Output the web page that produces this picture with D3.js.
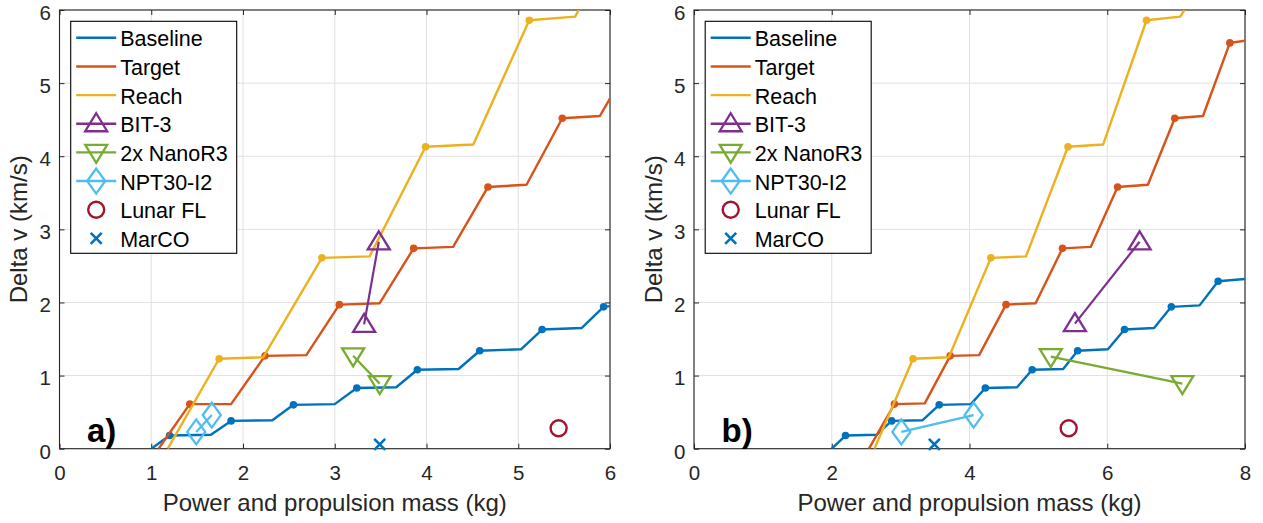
<!DOCTYPE html>
<html>
<head>
<meta charset="utf-8">
<script src="https://cdn.jsdelivr.net/npm/d3@7/dist/d3.min.js"></script>
<style>
  html, body { margin: 0; padding: 0; background: #fff; }
  svg { display: block; font-family: "Liberation Sans", Arial, Helvetica, sans-serif; }
</style>
</head>
<body>
<svg id="chart" width="1263" height="523"></svg>
<script>
// ---- shared axis settings ----
const yTicks = [0, 1, 2, 3, 4, 5, 6];
const xTicksA = [0, 1, 2, 3, 4, 5, 6];
const xTicksB = [0, 2, 4, 6, 8];
const xDomainA = [0, 6];
const xDomainB = [0, 8];
const yDomain = [0, 6];
const xTitle = "Power and propulsion mass (kg)";
const yTitle = "Delta v (km/s)";
const legendNames = ["Baseline", "Target", "Reach", "BIT-3", "2x NanoR3", "NPT30-I2", "Lunar FL", "MarCO"];

// ---- panel a) : [mass kg, delta v km/s] ----
const baselineA = [[1.0,0],[1.2,0.18],[1.65,0.19],[1.87,0.38],[2.32,0.39],[2.55,0.6],[3.0,0.61],[3.24,0.83],[3.67,0.84],[3.9,1.08],[4.35,1.09],[4.58,1.34],[5.03,1.36],[5.26,1.63],[5.69,1.65],[5.93,1.94],[6.0,1.95]];
const targetA = [[1.08,0],[1.42,0.61],[1.87,0.61],[2.24,1.27],[2.69,1.28],[3.05,1.97],[3.49,1.99],[3.86,2.74],[4.29,2.76],[4.67,3.58],[5.09,3.61],[5.48,4.52],[5.89,4.55],[6.0,4.79]];
const reachA = [[1.18,0],[1.74,1.23],[2.22,1.25],[2.86,2.61],[3.38,2.63],[3.99,4.13],[4.51,4.16],[5.12,5.86],[5.62,5.91],[5.66,6.0]];
const bit3A = [[3.32,1.70],[3.48,2.83]];
const nanoR3A = [[3.20,1.27],[3.49,0.89]];
const npt30A = [[1.49,0.23],[1.66,0.46]];
const lunarA = [[5.44,0.28]];
const marcoA = [[3.49,0.06]];

// ---- panel b) ----
const baselineB = [[2.0,0],[2.2,0.18],[2.65,0.19],[2.87,0.38],[3.32,0.39],[3.56,0.6],[4.02,0.61],[4.23,0.83],[4.69,0.84],[4.91,1.08],[5.36,1.09],[5.57,1.34],[6.01,1.36],[6.25,1.63],[6.68,1.65],[6.93,1.94],[7.34,1.96],[7.61,2.29],[8.0,2.32]];
const targetB = [[2.54,0],[2.91,0.61],[3.35,0.62],[3.72,1.27],[4.14,1.28],[4.53,1.97],[4.96,1.99],[5.35,2.74],[5.76,2.76],[6.15,3.58],[6.59,3.61],[6.98,4.52],[7.39,4.55],[7.78,5.55],[8.0,5.58]];
const reachB = [[2.62,0],[3.18,1.23],[3.70,1.25],[4.31,2.61],[4.82,2.63],[5.43,4.13],[5.94,4.16],[6.57,5.86],[7.06,5.91],[7.12,6.0]];
const bit3B = [[5.53,1.71],[6.47,2.83]];
const nanoR3B = [[5.18,1.26],[7.09,0.89]];
const npt30B = [[3.01,0.23],[4.06,0.46]];
const lunarB = [[5.44,0.28]];
const marcoB = [[3.49,0.06]];

// MATLAB-style colour order
const C = {
  baseline: "#0072BD", target: "#D95319", reach: "#EDB120", bit3: "#7E2F8E",
  nano: "#77AC30", npt: "#4DBEEE", lunar: "#A2142F", marco: "#0072BD"
};
const axisColor = "#262626";
const gridColor = "#e0e0e0";

const svg = d3.select("#chart");

// marker path generators (centred on 0,0)
const markerPaths = {
  up: "M0,-10.5 L11,7.5 L-11,7.5 Z",
  down: "M0,10.5 L11,-7.5 L-11,-7.5 Z",
  diamond: "M0,-12.5 L9,0 L0,12.5 L-9,0 Z",
  cross: "M-5.5,-5.5 L5.5,5.5 M-5.5,5.5 L5.5,-5.5"
};

function drawMarker(g, type, cx, cy, color) {
  if (type === "circle") {
    g.append("circle").attr("cx", cx).attr("cy", cy).attr("r", 8)
      .attr("fill", "none").attr("stroke", color).attr("stroke-width", 2.4);
  } else {
    g.append("path").attr("d", markerPaths[type])
      .attr("transform", `translate(${cx},${cy})`)
      .attr("fill", "none").attr("stroke", color)
      .attr("stroke-width", type === "cross" ? 2.6 : 2.3)
      .attr("stroke-linejoin", "miter");
  }
}

function drawPanel(opt) {
  const left = opt.left, right = opt.right, top = 10, bottom = 448.7;
  const x = d3.scaleLinear().domain(opt.xDomain).range([left, right]);
  const y = d3.scaleLinear().domain(yDomain).range([bottom, top]);
  const g = svg.append("g");
  const clipId = "clip-" + opt.id;

  g.append("clipPath").attr("id", clipId)
    .append("rect").attr("x", left).attr("y", top)
    .attr("width", right - left).attr("height", bottom - top);

  // grid
  const grid = g.append("g");
  grid.selectAll("line.gx").data(opt.xTicks).join("line")
    .attr("x1", d => x(d)).attr("x2", d => x(d)).attr("y1", top).attr("y2", bottom)
    .attr("stroke", gridColor).attr("stroke-width", 1);
  grid.selectAll("line.gy").data(yTicks).join("line")
    .attr("x1", left).attr("x2", right).attr("y1", d => y(d)).attr("y2", d => y(d))
    .attr("stroke", gridColor).attr("stroke-width", 1);

  // axes with inward ticks
  const styleAxis = sel => {
    sel.select(".domain").remove();
    sel.selectAll(".tick line").attr("stroke", axisColor).attr("stroke-width", 1);
    sel.selectAll(".tick text").attr("fill", axisColor).attr("font-size", 20.5)
      .attr("font-family", "Liberation Sans, Arial, sans-serif");
  };
  const ax = g.append("g").attr("transform", `translate(0,${bottom})`)
    .call(d3.axisBottom(x).tickValues(opt.xTicks).tickSizeInner(-5).tickSizeOuter(0).tickFormat(d3.format("d")))
    .call(styleAxis);
  ax.selectAll(".tick text").attr("y", 31.5).attr("dy", 0);

  g.append("g").attr("transform", `translate(0,${top})`)
    .call(d3.axisTop(x).tickValues(opt.xTicks).tickSizeInner(-5).tickSizeOuter(0).tickFormat(""))
    .call(styleAxis);

  const ay = g.append("g").attr("transform", `translate(${left},0)`)
    .call(d3.axisLeft(y).tickValues(yTicks).tickSizeInner(-5).tickSizeOuter(0).tickFormat(d3.format("d")))
    .call(styleAxis);
  ay.selectAll(".tick text").attr("x", -8.5).attr("dy", 0).attr("y", 9.3);

  g.append("g").attr("transform", `translate(${right},0)`)
    .call(d3.axisRight(y).tickValues(yTicks).tickSizeInner(-5).tickSizeOuter(0).tickFormat(""))
    .call(styleAxis);

  // axes box
  g.append("rect").attr("x", left).attr("y", top)
    .attr("width", right - left).attr("height", bottom - top)
    .attr("fill", "none").attr("stroke", axisColor).attr("stroke-width", 1.1);

  // axis titles
  g.append("text").attr("x", (left + right) / 2).attr("y", 510.5)
    .attr("text-anchor", "middle").attr("font-size", 24).attr("fill", axisColor)
    .text(xTitle);
  g.append("text").attr("transform", `translate(${left - 32.5},${(top + bottom) / 2}) rotate(-90)`)
    .attr("text-anchor", "middle").attr("font-size", 24).attr("fill", axisColor)
    .text(yTitle);

  // panel tag
  g.append("text").attr("x", left + 27.5).attr("y", 442)
    .attr("font-size", 33).attr("font-weight", "bold").attr("fill", "#000")
    .text(opt.tag);

  const line = d3.line().x(d => x(d[0])).y(d => y(d[1]));
  const plot = g.append("g").attr("clip-path", `url(#${clipId})`);

  // stepped design curves with dots at each plateau start
  [[opt.baseline, C.baseline], [opt.target, C.target], [opt.reach, C.reach]].forEach(([data, color]) => {
    plot.append("path").datum(data).attr("d", line)
      .attr("fill", "none").attr("stroke", color).attr("stroke-width", 2.4)
      .attr("stroke-linejoin", "round");
    plot.selectAll(null).data(data.filter((d, i) => i % 2 === 1 && i < data.length - 1)).join("circle")
      .attr("cx", d => x(d[0])).attr("cy", d => y(d[1])).attr("r", 3.8)
      .attr("fill", color);
  });

  // thruster options
  const mk = g.append("g");
  [[opt.bit3, C.bit3, "up"], [opt.nano, C.nano, "down"], [opt.npt, C.npt, "diamond"]].forEach(([data, color, type]) => {
    mk.append("path").datum(data).attr("d", line)
      .attr("fill", "none").attr("stroke", color).attr("stroke-width", 2.2);
    data.forEach(d => drawMarker(mk, type, x(d[0]), y(d[1]), color));
  });
  opt.lunar.forEach(d => drawMarker(mk, "circle", x(d[0]), y(d[1]), C.lunar));
  opt.marco.forEach(d => drawMarker(mk, "cross", x(d[0]), y(d[1]), C.marco));

  // legend
  const lx = left + 11.2, ly = 21.3, lw = 166, lh = 232;
  const lg = g.append("g");
  lg.append("rect").attr("x", lx).attr("y", ly).attr("width", lw).attr("height", lh)
    .attr("fill", "#fff").attr("stroke", "#000").attr("stroke-width", 1.1);
  const legendStyle = [
    [C.baseline, "line", null], [C.target, "line", null], [C.reach, "line", null],
    [C.bit3, "line", "up"], [C.nano, "line", "down"], [C.npt, "line", "diamond"],
    [C.lunar, null, "circle"], [C.marco, null, "cross"]
  ];
  legendNames.forEach((name, i) => {
    const cy = ly + 16.5 + i * 28.65;
    const [color, ln, mkType] = legendStyle[i];
    if (ln) {
      lg.append("line").attr("x1", lx + 5.5).attr("x2", lx + 45.5)
        .attr("y1", cy).attr("y2", cy).attr("stroke", color).attr("stroke-width", 2.4);
    }
    if (mkType) drawMarker(lg, mkType, lx + 25.5, cy, color);
    lg.append("text").attr("x", lx + 49.5).attr("y", cy + 8.5)
      .attr("font-size", 21.5).attr("fill", "#000").text(name);
  });
}

drawPanel({
  id: "a", tag: "a)", left: 59.5, right: 610, xDomain: xDomainA, xTicks: xTicksA,
  baseline: baselineA, target: targetA, reach: reachA,
  bit3: bit3A, nano: nanoR3A, npt: npt30A, lunar: lunarA, marco: marcoA
});
drawPanel({
  id: "b", tag: "b)", left: 694, right: 1245, xDomain: xDomainB, xTicks: xTicksB,
  baseline: baselineB, target: targetB, reach: reachB,
  bit3: bit3B, nano: nanoR3B, npt: npt30B, lunar: lunarB, marco: marcoB
});
</script>
</body>
</html>
